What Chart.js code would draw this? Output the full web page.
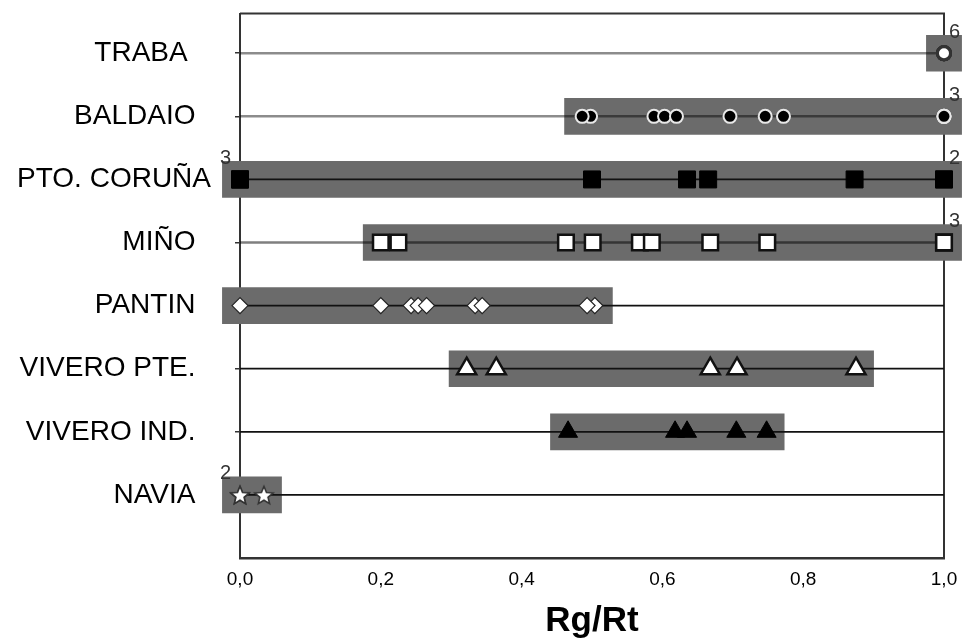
<!DOCTYPE html>
<html>
<head>
<meta charset="utf-8">
<script src="https://cdn.jsdelivr.net/npm/chart.js@4"></script>
<style>
html,body{margin:0;padding:0;background:#fff;}
canvas{display:block;}
</style>
</head>
<body>
<canvas id="c" width="962" height="644"></canvas>
<script>
// ---- data ----
const categories = ['TRABA', 'BALDAIO', 'PTO. CORUÑA', 'MIÑO', 'PANTIN', 'VIVERO PTE.', 'VIVERO IND.', 'NAVIA'];
const traba     = [1, 1, 1, 1, 1, 1];
const baldaio   = [0.498, 0.486, 0.588, 0.603, 0.620, 0.696, 0.746, 0.772, 1, 1, 1];
const ptoCoruna = [0, 0, 0, 0.5, 0.635, 0.665, 0.873, 1, 1];
const mino      = [0.2, 0.225, 0.463, 0.501, 0.568, 0.585, 0.668, 0.749, 1, 1, 1];
const pantin    = [0, 0.2, 0.243, 0.253, 0.265, 0.334, 0.344, 0.504, 0.493];
const viveroPte = [0.322, 0.364, 0.668, 0.706, 0.875];
const viveroInd = [0.466, 0.618, 0.635, 0.705, 0.748];
const navia     = [0, 0, 0.034];
const seriesValues = [traba, baldaio, ptoCoruna, mino, pantin, viveroPte, viveroInd, navia];
const xTickValues = [0, 0.2, 0.4, 0.6, 0.8, 1.0];
const xTickLabels = ['0,0', '0,2', '0,4', '0,6', '0,8', '1,0'];
const xTitle = 'Rg/Rt';

// ---- styles ----
const FONT = "'Liberation Sans', Arial, sans-serif";
function makeStar(size, fill, stroke) {
  const c = document.createElement('canvas');
  c.width = size; c.height = size;
  const g = c.getContext('2d');
  const cx = size / 2, cy = size / 2 + 1, ro = size / 2 - 1.5, ri = ro * 0.45;
  g.beginPath();
  for (let k = 0; k < 10; k++) {
    const r = k % 2 ? ri : ro;
    const a = -Math.PI / 2 + k * Math.PI / 5;
    const px = cx + r * Math.cos(a), py = cy + r * Math.sin(a);
    if (k === 0) g.moveTo(px, py); else g.lineTo(px, py);
  }
  g.closePath();
  g.fillStyle = fill; g.fill();
  g.lineWidth = 1.6; g.strokeStyle = stroke; g.stroke();
  return c;
}
const markerStyles = [
  { pointStyle: 'circle',   radius: 6.5, bg: '#ffffff', border: '#333333', bw: 3 },
  { pointStyle: 'circle',   radius: 6.5, bg: '#000000', border: '#e8e8e8', bw: 2 },
  { pointStyle: 'rect',     radius: 12, bg: '#000000', border: '#000000', bw: 1 },
  { pointStyle: 'rect',     radius: 11, bg: '#ffffff', border: '#111111', bw: 2.5 },
  { pointStyle: 'rectRot',  radius: 8,  bg: '#ffffff', border: '#222222', bw: 1.2 },
  { pointStyle: 'triangle', radius: 11, bg: '#ffffff', border: '#111111', bw: 2.5 },
  { pointStyle: 'triangle', radius: 11, bg: '#000000', border: '#000000', bw: 1 },
  { pointStyle: makeStar(22, '#ffffff', '#333333'), radius: 10, bg: '#fff', border: '#333', bw: 1 }
];
const rowLineColors = ['rgba(0,0,0,0.45)', 'rgba(0,0,0,0.45)', '#111', 'rgba(0,0,0,0.5)', '#111', '#111', '#111', '#111'];
const rowLineWidths = [2.5, 2.5, 1.8, 2.5, 1.8, 1.8, 1.8, 1.8];
const labelPad = [3, 2, 0, 2, 2, 2, 2, 2];
const BOX_PAD = 0.025;

const nRows = categories.length;
const rowY = i => nRows - i;

const datasets = [];
// grey range boxes (one floating bar per row)
datasets.push({
  type: 'bar', indexAxis: 'y', order: 3, clip: false, grouped: false,
  data: seriesValues.map((vals, i) => ({ y: rowY(i), x: [Math.min(...vals) - BOX_PAD, Math.max(...vals) + BOX_PAD] })),
  backgroundColor: '#6b6b6b', borderWidth: 0, barThickness: 36
});
seriesValues.forEach((vals, i) => {
  const y = rowY(i);
  // row line across the axis
  datasets.push({
    type: 'scatter', order: 2, showLine: true, clip: false,
    data: [{ x: xTickValues[0], y: y }, { x: xTickValues[xTickValues.length - 1], y: y }],
    borderColor: rowLineColors[i], borderWidth: rowLineWidths[i], pointRadius: 0
  });
  const m = markerStyles[i];
  datasets.push({
    type: 'scatter', order: 1, clip: false,
    data: vals.map(v => ({ x: v, y: y })),
    pointStyle: m.pointStyle, pointRadius: m.radius,
    backgroundColor: m.bg, borderColor: m.border, borderWidth: m.bw
  });
});

const framePlugin = {
  id: 'frame',
  beforeDatasetsDraw(chart) {
    const { ctx, chartArea: a } = chart;
    ctx.save();
    ctx.strokeStyle = '#333';
    ctx.lineWidth = 2;
    ctx.beginPath();
    ctx.moveTo(a.left, a.top);
    ctx.lineTo(a.right, a.top);
    ctx.lineTo(a.right, a.bottom);
    ctx.stroke();
    ctx.restore();
  }
};

const countPlugin = {
  id: 'counts',
  afterDatasetsDraw(chart) {
    const { ctx, scales: { x, y } } = chart;
    ctx.save();
    ctx.font = '20px ' + FONT;
    ctx.fillStyle = '#333';
    ctx.textBaseline = 'middle';
    seriesValues.forEach((vals, i) => {
      const counts = new Map();
      vals.forEach(v => counts.set(v, (counts.get(v) || 0) + 1));
      counts.forEach((n, v) => {
        if (n < 2) return;
        const px = x.getPixelForValue(v);
        const py = y.getPixelForValue(rowY(i)) - 21;
        if (v > 0.5) { ctx.textAlign = 'left'; ctx.fillText(String(n), px + 5, py); }
        else { ctx.textAlign = 'right'; ctx.fillText(String(n), px - 9, py); }
      });
    });
    ctx.restore();
  }
};

new Chart(document.getElementById('c'), {
  type: 'scatter',
  data: { datasets },
  plugins: [framePlugin, countPlugin],
  options: {
    responsive: false,
    animation: false,
    devicePixelRatio: 1,
    layout: { padding: { left: 0, right: 18, top: 13, bottom: 0 } },
    plugins: { legend: { display: false }, tooltip: { enabled: false } },
    scales: {
      x: {
        type: 'linear', position: 'bottom', min: 0, max: 1, offset: false,
        afterFit: s => { s.height = 86; s.paddingLeft = 0; s.paddingRight = 0; },
        afterBuildTicks: s => { s.ticks = xTickValues.map(v => ({ value: v })); },
        grid: { display: false, offset: false },
        border: { display: true, color: '#333', width: 2.5 },
        ticks: {
          padding: 2, color: '#000', maxRotation: 0, autoSkip: false,
          font: { family: FONT, size: 19 },
          callback: (v, idx) => xTickLabels[idx]
        },
        title: {
          display: true, text: xTitle, color: '#000',
          font: { family: FONT, size: 35, weight: 'bold' },
          padding: { top: 0, bottom: 2 }
        }
      },
      y: {
        type: 'linear', min: 0, max: 8.63, offset: false,
        afterFit: s => { s.width = 240; s.paddingTop = 0; s.paddingBottom = 0; },
        afterBuildTicks: s => { s.ticks = categories.map((c, i) => ({ value: rowY(i) })); },
        grid: { display: true, offset: false, drawOnChartArea: false, drawTicks: true, tickLength: 5, color: '#333', lineWidth: 1.5 },
        border: { display: true, color: '#333', width: 2 },
        ticks: {
          padding: 24, color: '#000', autoSkip: false,
          font: { family: FONT, size: 28 },
          callback: v => {
            const i = nRows - v;
            return categories[i] + ' '.repeat(labelPad[i]);
          }
        }
      }
    }
  }
});
</script>
</body>
</html>
